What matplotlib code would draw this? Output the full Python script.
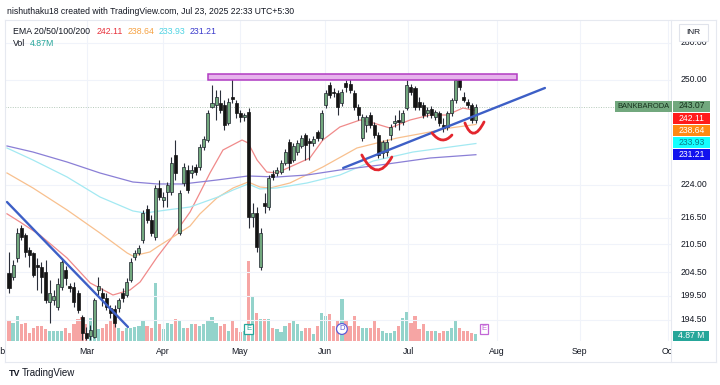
import numpy as np
import matplotlib
matplotlib.use("Agg")
import matplotlib.pyplot as plt
import matplotlib.transforms as mtransforms
from matplotlib.patches import Rectangle, PathPatch
from matplotlib.path import Path

plt.rcParams['font.family'] = ['Liberation Sans', 'DejaVu Sans']

# ---- daily candles, Feb 3 2025 .. Jul 23 2025 (bar index 0..115) ----
opens = [204.30, 203.45, 207.53, 214.15, 212.58, 209.27, 208.62, 206.02, 205.59, 204.52,
         198.20, 198.61, 197.16, 201.33, 204.94, 201.54, 201.33, 200.07, 195.11, 191.90,
         191.27, 191.07, 200.70, 200.07, 199.03, 196.96, 196.76, 196.96, 200.07, 199.65,
         202.81, 207.75, 208.62, 211.47, 218.44, 215.95, 212.14, 223.30, 220.51, 222.36,
         222.36, 231.14, 213.03, 224.47, 227.54, 226.83, 228.26, 228.26, 233.08, 234.79,
         243.04, 243.55, 244.06, 243.55, 239.01, 245.59, 244.06, 241.52, 240.51, 241.77,
         216.63, 217.53, 205.59, 219.82, 218.90, 226.59, 226.83, 227.06, 229.21, 234.30,
         229.93, 231.86, 233.33, 236.02, 234.55, 234.06, 236.77, 235.28, 243.55, 248.70,
         246.88, 246.62, 244.06, 249.22, 248.96, 246.62, 243.04, 235.28, 238.51, 241.01,
         238.51, 236.02, 231.62, 231.86, 236.02, 239.01, 239.76, 239.26, 242.78, 248.18,
         247.92, 244.31, 243.55, 241.52, 242.53, 240.51, 241.52, 238.51, 238.01, 241.52,
         244.83, 250.52, 245.59, 244.31, 243.55, 239.76]
highs = [208.84, 207.10, 214.15, 214.82, 213.03, 209.93, 208.84, 207.53, 206.67, 207.10,
         202.81, 200.70, 203.23, 207.53, 205.80, 202.18, 202.39, 200.70, 195.52, 193.08,
         193.49, 199.03, 203.45, 201.12, 200.07, 197.58, 197.58, 199.03, 201.12, 203.23,
         207.53, 209.27, 210.37, 218.22, 219.36, 217.08, 224.00, 225.17, 222.36, 224.70,
         230.65, 234.79, 222.83, 229.21, 228.73, 228.73, 228.97, 233.81, 235.77, 242.28,
         248.70, 247.40, 247.40, 244.83, 245.34, 251.05, 244.83, 242.28, 241.52, 242.78,
         219.82, 218.90, 214.15, 222.13, 226.35, 227.54, 228.26, 229.93, 232.60, 235.04,
         234.06, 234.79, 236.02, 236.52, 235.28, 235.77, 237.26, 242.28, 247.40, 249.48,
         247.92, 247.40, 247.66, 250.00, 250.40, 247.40, 243.80, 241.27, 241.01, 241.77,
         239.26, 236.77, 234.79, 235.04, 238.76, 241.01, 242.28, 242.28, 250.00, 248.96,
         248.44, 245.59, 244.31, 243.04, 243.29, 242.28, 242.03, 240.26, 242.03, 245.34,
         250.52, 251.05, 246.88, 245.08, 244.06, 243.80]
lows = [200.07, 202.81, 206.67, 211.47, 207.75, 205.59, 203.45, 200.70, 200.07, 197.99,
        193.89, 197.58, 196.55, 200.70, 201.75, 200.28, 197.16, 195.93, 190.47, 190.47,
        190.47, 190.90, 199.65, 197.37, 196.55, 194.91, 193.08, 196.14, 198.20, 199.24,
        202.39, 207.10, 208.18, 210.81, 215.27, 212.36, 211.47, 220.51, 218.90, 218.90,
        221.67, 225.17, 212.58, 223.77, 222.13, 225.64, 226.35, 227.54, 232.35, 234.30,
        242.78, 239.76, 241.52, 237.26, 238.51, 244.06, 240.26, 239.26, 239.51, 214.15,
        214.37, 208.84, 204.94, 217.53, 218.22, 225.17, 226.12, 226.59, 228.73, 227.54,
        229.45, 231.14, 232.84, 229.93, 229.93, 233.33, 234.55, 234.79, 242.78, 245.34,
        245.59, 241.01, 243.29, 246.88, 246.62, 242.28, 239.76, 234.55, 236.77, 237.76,
        235.28, 230.41, 230.41, 230.90, 234.79, 238.01, 237.26, 238.51, 242.28, 246.11,
        242.28, 242.28, 240.26, 240.51, 240.26, 239.76, 238.26, 236.77, 237.26, 240.76,
        244.06, 247.40, 244.31, 242.78, 239.01, 239.01]
closes = [201.12, 206.02, 213.03, 212.14, 208.84, 208.18, 203.87, 205.59, 203.45, 198.61,
          200.07, 199.44, 201.96, 206.67, 203.23, 201.12, 198.20, 196.55, 191.88, 190.87,
          192.48, 198.61, 201.54, 199.03, 197.16, 195.93, 193.89, 198.61, 199.03, 202.39,
          206.67, 208.62, 209.71, 217.53, 215.95, 213.03, 223.30, 221.21, 221.21, 224.00,
          229.21, 226.83, 222.13, 228.26, 222.83, 227.54, 227.06, 233.08, 235.04, 241.52,
          244.06, 245.59, 242.28, 238.51, 244.31, 245.08, 241.52, 240.51, 241.01, 216.63,
          217.53, 209.93, 213.03, 219.13, 225.64, 225.88, 227.54, 229.21, 231.86, 229.21,
          233.33, 234.06, 235.28, 233.57, 234.06, 235.04, 235.28, 241.52, 246.62, 246.11,
          246.62, 243.04, 246.88, 248.18, 247.40, 243.04, 241.01, 240.51, 240.51, 238.51,
          236.02, 231.14, 234.30, 234.30, 238.01, 239.51, 239.26, 241.52, 248.70, 246.88,
          243.04, 243.04, 241.01, 242.28, 241.01, 241.77, 239.01, 237.76, 241.52, 244.83,
          250.00, 248.18, 244.83, 243.55, 239.76, 243.07]
volumes = [14.0, 12.6, 17.5, 11.9, 12.6, 5.6, 9.1, 10.5, 10.5, 8.4,
           7.0, 7.0, 7.0, 7.0, 9.1, 5.6, 11.9, 15.4, 16.8, 11.9,
           16.1, 14.0, 8.4, 9.1, 11.9, 14.0, 14.0, 9.1, 7.0, 9.1,
           9.1, 9.8, 10.5, 14.0, 10.5, 9.1, 40.6, 11.9, 8.4, 12.6,
           11.9, 15.4, 14.7, 9.1, 9.1, 11.9, 11.9, 10.5, 11.9, 14.0,
           16.8, 12.6, 10.5, 11.9, 7.0, 14.0, 9.1, 6.3, 7.0, 56.0,
           31.5, 19.6, 15.4, 15.4, 15.4, 9.1, 8.4, 6.3, 10.5, 12.6,
           14.0, 11.9, 7.0, 9.1, 9.1, 4.9, 10.5, 19.6, 17.5, 18.9,
           10.5, 14.0, 29.4, 14.0, 10.5, 17.5, 10.5, 9.1, 9.1, 9.1,
           14.0, 9.1, 7.0, 5.6, 5.6, 7.0, 10.5, 16.1, 20.3, 12.6,
           17.5, 8.4, 11.9, 7.0, 7.0, 7.0, 5.6, 7.0, 7.0, 9.1,
           14.7, 9.1, 7.0, 7.0, 5.6, 4.87]

# EMA readings (bar index, price)
ema20_x = [-0.5, 2.7, 7.6, 14.3, 20.0, 25.6, 29.8, 32.3, 36.5, 39.7, 44.6, 47.0, 49.5, 52.7,
           57.4, 58.9, 61.1, 63.5, 66.0, 69.2, 74.1, 77.3, 81.5, 86.5, 89.7, 93.8, 98.8,
           103.7, 107.9, 111.8, 115.0]
ema20 = [217.35, 215.50, 212.58, 207.53, 202.18, 199.65, 200.70, 202.39, 207.75, 211.47,
         217.76, 222.13, 226.83, 232.35, 234.79, 234.06, 229.93, 227.06, 226.83, 228.26,
         230.41, 234.79, 238.01, 239.76, 239.01, 237.76, 239.76, 241.01, 241.01, 242.78, 242.11]
ema50_x = [-0.5, 5.9, 14.3, 22.4, 29.1, 30.5, 34.7, 36.5, 40.4, 44.6, 47.0, 51.2, 55.2, 58.9,
           61.8, 64.3, 69.2, 77.3, 85.7, 95.6, 103.7, 108.6, 115.0]
ema50 = [226.83, 223.30, 218.22, 213.03, 208.62, 207.96, 208.84, 209.93, 212.14, 214.60,
         217.30, 220.97, 223.30, 224.70, 223.53, 223.30, 224.47, 228.26, 232.84, 235.28,
         236.77, 237.76, 238.64]
ema100_x = [-0.5, 5.9, 14.3, 22.4, 30.5, 33.5, 38.9, 44.6, 51.5, 55.2, 58.9, 61.8, 66.0,
            73.4, 81.5, 89.7, 99.5, 115.0]
ema100 = [232.84, 229.93, 225.88, 221.21, 218.00, 217.53, 218.22, 218.90, 221.21, 222.83,
          224.24, 223.07, 223.30, 224.47, 226.35, 229.69, 231.86, 233.93]
ema200_x = [-0.5, 5.9, 14.3, 22.4, 30.5, 36.5, 42.9, 51.2, 58.9, 66.0, 73.4, 81.5, 91.4,
            103.7, 115.0]
ema200 = [233.33, 231.86, 229.45, 226.83, 224.70, 224.24, 224.24, 225.17, 226.12, 225.88,
          226.35, 227.54, 228.73, 230.41, 231.21]

# drawings
down_line = ([-0.5, 29.3], [220.05, 193.08])
up_line = ([82.3, 132.0], [228.02, 247.92])
zone_x = (49.0, 125.1)
zone_p = (250.0, 251.57)
smiles = [[(86.9, 231.14), (90.6, 224.24), (94.3, 230.65)],
          [(104.2, 236.52), (106.7, 233.33), (109.1, 236.02)],
          [(112.3, 239.01), (114.3, 233.81), (117.0, 239.26)]]
events = [(59, 'E', '#26a69a'), (82, 'D', '#5b5bd6'), (117, 'E', '#c267d6')]

month_pos = [19.2, 37.9, 56.9, 77.8, 98.3, 120.2, 140.6, 162.3]
month_lab = ['Mar', 'Apr', 'May', 'Jun', 'Jul', 'Aug', 'Sep', 'Oct']
price_ticks = [260.0, 250.0, 224.0, 216.5, 210.5, 204.5, 199.5, 194.5]
ema_last = [242.11, 238.64, 233.93, 231.21]
ema_cols = ['#f08a8a', '#f8c08e', '#a3e9f2', '#8a7fd6']
ema_txt = ['#e8323c', '#f5a142', '#4fd3e3', '#3a3acc']
tag_cols = [('#ff1b1b', 'white'), ('#ff8a14', 'white'), ('#14ffff', '#0a7d86'), ('#1212ee', 'white')]

UP = '#72a87e'
DOWN = '#141414'
INK = '#131722'

# ---- figure / layout (pixels) ----
W, H = 720, 385
fig = plt.figure(figsize=(W / 100, H / 100), dpi=100)


def fx(x):
    return x / W


def fy(y):
    return 1 - y / H


PL, PR, PT, PB = 5, 671, 20, 341
X0, STEP = 9, 4.06
Y250, PXLN = 80, 956.0

ax = fig.add_axes([fx(PL), fy(PB), (PR - PL) / W, (PB - PT) / H])
axv = ax.twinx()
ax.set_zorder(2)
axv.set_zorder(1)
ax.patch.set_visible(False)

ax.set_yscale('log')
ax.set_xlim((PL - X0) / STEP, (PR - X0) / STEP)
ax.set_ylim(250 * np.exp((Y250 - PB) / PXLN), 250 * np.exp((Y250 - PT) / PXLN))
ax.set_yticks([])
ax.yaxis.set_minor_locator(matplotlib.ticker.NullLocator())
ax.set_xticks([])
for s in ax.spines.values():
    s.set_visible(False)
axv.set_axis_off()

idx = np.arange(len(closes))
o, hi, lo, c = map(np.array, (opens, highs, lows, closes))
up = c >= o

# volume
axv.bar(idx, volumes, width=0.78, color=np.where(up, '#93d3cb', '#f6a5a4'), lw=0)
axv.set_ylim(0, (PB - PT) * 0.7)

# grid
for p in price_ticks:
    ax.axhline(p, color='#f0f3fa', lw=0.8, zorder=0)
for m in month_pos:
    ax.axvline(m, color='#f0f3fa', lw=0.8, zorder=0)

# EMAs
for xs, ys, col in zip([ema20_x, ema50_x, ema100_x, ema200_x], [ema20, ema50, ema100, ema200], ema_cols):
    ax.plot(xs, ys, color=col, lw=0.9, zorder=2)

# last price line
ax.axhline(closes[-1], color='#b5c9ba', lw=0.7, ls=(0, (1, 1.5)), zorder=1)

# candles
ax.vlines(idx, lo, hi, color='#2a2e39', lw=0.8, zorder=3)
body_lo = np.minimum(o, c)
body_h = np.maximum(np.abs(c - o), 0.2)
ax.bar(idx[up], body_h[up], bottom=body_lo[up], width=0.74, color=UP,
       edgecolor='#1e222d', lw=0.5, zorder=4)
ax.bar(idx[~up], body_h[~up], bottom=body_lo[~up], width=0.74, color=DOWN,
       edgecolor=DOWN, lw=0.5, zorder=4)

# drawings
ax.add_patch(Rectangle((zone_x[0], zone_p[0]), zone_x[1] - zone_x[0], zone_p[1] - zone_p[0],
                       fc='#e6b3ec', ec='#b23cc2', lw=1.1, zorder=5))
ax.plot(*down_line, color='#3d5fc6', lw=1.7, zorder=5, solid_capstyle='round')
ax.plot(*up_line, color='#3d5fc6', lw=1.7, zorder=5, solid_capstyle='round')
for pts in smiles:
    pth = Path(pts, [Path.MOVETO, Path.CURVE3, Path.CURVE3])
    ax.add_patch(PathPatch(pth, fill=False, ec='#e3262e', lw=2.0, capstyle='round', zorder=6))

# event badges
xa = ax.get_xaxis_transform()
for i, ch, col in events:
    style = 'circle,pad=0.25' if ch == 'D' else 'square,pad=0.25'
    ax.text(i, (PB - 329) / (PB - PT), ch, transform=xa, ha='center', va='center',
            fontsize=5.5, color=col, zorder=7, clip_on=False,
            bbox=dict(boxstyle=style, fc='white', ec=col, lw=0.9))

# month labels (Feb is cut by the left edge, as in the source)
yl = -(351 - PB) / (PB - PT)
ax.text(-2.7, yl, 'Feb', transform=xa, ha='center', va='center', fontsize=6.3, color=INK, clip_on=False)
for m, lab in zip(month_pos, month_lab):
    ax.text(m, yl, lab, transform=xa, ha='center', va='center', fontsize=6.3, color=INK, clip_on=False)

# ---- frame & price scale panel ----
fig.add_artist(Rectangle((fx(PR), fy(362)), (716 - PR) / W, (362 - PT) / H,
                         transform=fig.transFigure, fc='white', ec='none', zorder=5))
for (x1, y1, x2, y2) in [(PL, PT, 716, PT), (PL, 362, 716, 362), (PL, PT, PL, 362),
                         (716, PT, 716, 362), (PR, PT, PR, 362)]:
    fig.add_artist(plt.Line2D([fx(x1), fx(x2)], [fy(y1), fy(y2)], transform=fig.transFigure,
                              color='#e6e9f0', lw=0.8, zorder=6))

blend = mtransforms.blended_transform_factory(fig.transFigure, ax.transData)
for p in price_ticks:
    fig.text(fx(694), p, '%.2f' % p, transform=blend, ha='center', va='center',
             fontsize=6.2, color=INK, zorder=6)


def tag(x0, x1, yc, text, fc, tc, hgt=11, fs=6.2):
    fig.add_artist(Rectangle((fx(x0), fy(yc + hgt / 2)), (x1 - x0) / W, hgt / H,
                             transform=fig.transFigure, fc=fc, ec='none', zorder=7))
    fig.text(fx((x0 + x1) / 2), fy(yc), text, ha='center', va='center', fontsize=fs,
             color=tc, zorder=8)


tag(615, 672, 106, 'BANKBARODA', UP, '#17321d', fs=5.4)
tag(673, 710, 106, '%.2f' % closes[-1], UP, '#17321d')
for k, (v, (fc, tc)) in enumerate(zip(ema_last, tag_cols)):
    tag(673, 710, 118.5 + 12 * k, '%.2f' % v, fc, tc)
tag(673, 709, 335.5, '%.2f M' % volumes[-1], '#26a69a', 'white', hgt=10)

# INR box
fig.add_artist(Rectangle((fx(679), fy(41)), 29 / W, 17 / H, transform=fig.transFigure,
                         fc='white', ec='#e0e3eb', lw=0.8, zorder=7))
fig.text(fx(693.5), fy(32.5), 'INR', ha='center', va='center', fontsize=6, color=INK, zorder=8)

# ---- header texts ----
fig.text(fx(7), fy(11), 'nishuthaku18 created with TradingView.com, Jul 23, 2025 22:33 UTC+5:30',
         ha='left', va='center', fontsize=6.2, color=INK)
fig.text(fx(13), fy(31), 'EMA 20/50/100/200', ha='left', va='center', fontsize=6.3, color=INK)
for xp, v, col in zip([97, 128, 159, 190], ema_last, ema_txt):
    fig.text(fx(xp), fy(31), '%.2f' % v, ha='left', va='center', fontsize=6.3, color=col)
fig.text(fx(13), fy(44), 'Vol', ha='left', va='center', fontsize=6.3, color=INK)
fig.text(fx(30), fy(44), '%.2fM' % volumes[-1], ha='left', va='center', fontsize=6.3, color='#26a69a')

# footer logo
fig.text(fx(9), fy(373), 'TV', ha='left', va='center', fontsize=6.5, fontweight='bold', color=INK)
fig.text(fx(22), fy(373), 'TradingView', ha='left', va='center', fontsize=7, color=INK)

fig.savefig('out.png', dpi=100)
